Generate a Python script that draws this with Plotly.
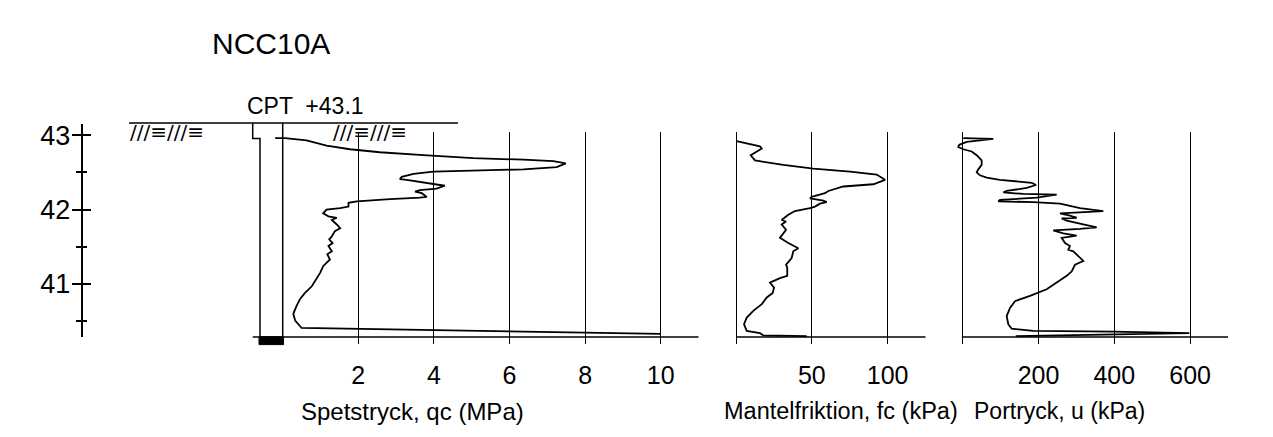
import plotly.graph_objects as go

# ---------------- data ----------------
TITLE = "NCC10A"
GROUND_LABEL = "CPT  +43.1"
END_DEPTH = 40.29  # end of sounding (m, level)

QC_DEPTH = [42.96, 42.96, 42.93, 42.86, 42.81, 42.77, 42.73, 42.69, 42.67, 42.65, 42.62, 42.57,
            42.54, 42.52, 42.51, 42.48, 42.44, 42.41, 42.40, 42.33, 42.32, 42.28, 42.26, 42.24,
            42.22, 42.17, 42.16, 42.14, 42.11, 42.09, 42.04, 42.02, 42.00, 41.95, 41.91, 41.89,
            41.86, 41.80, 41.75, 41.71, 41.64, 41.60, 41.55, 41.51, 41.44, 41.40, 41.33, 41.28,
            41.24, 41.15, 41.08, 40.97, 40.88, 40.80, 40.71, 40.60, 40.51, 40.41, 40.33]
QC_VALUES = [-0.20, 0.06, 0.63, 1.16, 1.78, 2.57, 3.72, 5.04, 6.37, 7.16, 7.49, 7.25,
             6.37, 5.04, 3.98, 3.46, 3.15, 3.10, 3.28, 4.16, 4.29, 4.07, 3.63, 3.50,
             3.68, 3.81, 3.63, 2.84, 1.96, 1.74, 1.74, 1.52, 1.16, 1.07, 1.21, 1.43,
             1.30, 1.43, 1.52, 1.38, 1.30, 1.23, 1.32, 1.21, 1.30, 1.18, 1.25, 1.15,
             1.07, 0.99, 0.90, 0.77, 0.59, 0.46, 0.37, 0.28, 0.33, 0.50, 10.0]

FC_DEPTH = [42.92, 42.88, 42.85, 42.82, 42.77, 42.73, 42.66, 42.60, 42.55, 42.51, 42.47, 42.40,
            42.34, 42.31, 42.25, 42.22, 42.17, 42.15, 42.12, 42.10, 42.08, 42.04, 42.02, 41.98,
            41.93, 41.86, 41.84, 41.80, 41.73, 41.62, 41.55, 41.48, 41.44, 41.35, 41.26, 41.22,
            41.11, 41.08, 41.04, 41.02, 40.95, 40.88, 40.82, 40.73, 40.64, 40.55, 40.46, 40.37,
            40.34, 40.31, 40.30]
FC_VALUES = [0.4, 10.3, 15.8, 17.0, 12.5, 9.7, 12.5, 31.2, 51.0, 75.2, 92.8, 98.3,
             90.6, 70.8, 60.9, 58.7, 49.9, 48.8, 57.6, 59.8, 55.4, 52.1, 48.8, 38.9,
             34.5, 30.1, 33.0, 30.1, 33.0, 29.0, 34.5, 41.1, 37.8, 36.7, 33.0, 33.8,
             33.8, 29.0, 24.6, 22.4, 25.1, 24.2, 20.3, 17.0, 11.4, 7.1, 5.3, 7.1,
             15.8, 18.0, 46.6]

U_DEPTH = [42.96, 42.95, 42.91, 42.87, 42.84, 42.81, 42.78, 42.73, 42.66, 42.60, 42.54, 42.50,
           42.46, 42.43, 42.40, 42.38, 42.36, 42.33, 42.29, 42.25, 42.23, 42.21, 42.20, 42.16,
           42.13, 42.11, 42.10, 42.08, 42.06, 42.02, 41.98, 41.97, 41.95, 41.92, 41.89, 41.88,
           41.85, 41.80, 41.76, 41.74, 41.72, 41.68, 41.65, 41.62, 41.55, 41.51, 41.46, 41.44,
           41.40, 41.31, 41.26, 41.17, 41.11, 41.02, 40.93, 40.84, 40.77, 40.68, 40.57, 40.46,
           40.40, 40.37, 40.36, 40.34, 40.30]
U_VALUES = [1.6, 80.7, 10.5, -9.0, -11.6, 1.6, 23.7, 36.9, 50.0, 50.0, 41.2, 36.9,
            45.6, 63.3, 98.4, 142.5, 182.0, 193.4, 168.9, 116.0, 107.2, 160.0, 248.0, 195.2,
            98.4, 94.0, 186.3, 256.7, 274.4, 309.5, 371.0, 318.2, 256.7, 283.0, 300.7, 261.2,
            274.4, 318.2, 353.5, 309.5, 239.0, 265.4, 300.7, 261.2, 270.0, 283.0, 278.6, 291.8,
            300.7, 318.2, 296.3, 287.6, 274.4, 248.0, 221.6, 177.6, 138.0, 124.8, 116.0, 120.4,
            129.3, 186.3, 397.0, 598.0, 140.0]

DEPTH_TICKS = [41, 42, 43]
DEPTH_MINOR = [40.5, 41.5, 42.5]
QC_TICKS = [2, 4, 6, 8, 10]
FC_TICKS = [0, 50, 100]
U_TICKS = [0, 200, 400, 600]
QC_TITLE = "Spetstryck, qc (MPa)"
FC_TITLE = "Mantelfriktion, fc (kPa)"
U_TITLE = "Portryck, u (kPa)"
HATCH = "///≡///≡"

# ---------------- layout helpers ----------------
OFF = 8                      # default page margin around the figure
FW, FH = 1273 - 2 * OFF, 437 - 2 * OFF
FONT = "Liberation Sans, Arial, sans-serif"
HFONT = "DejaVu Sans, sans-serif"


def px(x):
    return (x - OFF) / FW


def py(y):
    return 1 - (y - OFF) / FH


def depth_at(ypix):
    # 43 m at pixel 133, 75 px per metre
    return 43 - (ypix - 133) / 75.0


def panel(zero_px, px_per_unit, left_px, right_px):
    dom = [px(left_px), px(right_px)]
    rng = [(left_px - zero_px) / px_per_unit, (right_px - zero_px) / px_per_unit]
    return dom, rng


qc_dom, qc_rng = panel(282.7, 37.8, 240, 700)
fc_dom, fc_rng = panel(736.0, 1.516, 725, 930)
u_dom, u_rng = panel(962.7, 0.379, 945, 1232)

line_style = dict(color="black", width=1.8)

fig = go.Figure()
fig.add_trace(go.Scatter(x=QC_VALUES, y=QC_DEPTH, mode="lines", line=line_style,
                         xaxis="x", yaxis="y", showlegend=False, hoverinfo="skip"))
fig.add_trace(go.Scatter(x=FC_VALUES, y=FC_DEPTH, mode="lines", line=line_style,
                         xaxis="x2", yaxis="y", showlegend=False, hoverinfo="skip"))
fig.add_trace(go.Scatter(x=U_VALUES, y=U_DEPTH, mode="lines", line=line_style,
                         xaxis="x3", yaxis="y", showlegend=False, hoverinfo="skip"))
# carriers for the depth scale axes
fig.add_trace(go.Scatter(x=[None], y=[None], xaxis="x4", yaxis="y2", showlegend=False, hoverinfo="skip"))
fig.add_trace(go.Scatter(x=[None], y=[None], xaxis="x4", yaxis="y3", showlegend=False, hoverinfo="skip"))

tickfont = dict(family=FONT, size=25, color="black")
xcommon = dict(anchor="y", showline=False, zeroline=False, showgrid=True, gridcolor="black",
               gridwidth=1.2, ticks="", tickfont=tickfont, ticklabelstandoff=14, fixedrange=True)

fig.update_layout(
    width=FW, height=FH, margin=dict(l=0, r=0, t=0, b=0),
    paper_bgcolor="white", plot_bgcolor="rgba(0,0,0,0)",
    xaxis=dict(domain=qc_dom, range=qc_rng, tickvals=QC_TICKS, **xcommon),
    xaxis2=dict(domain=fc_dom, range=fc_rng, tickvals=FC_TICKS,
                ticktext=["" if v == 0 else str(v) for v in FC_TICKS], **xcommon),
    xaxis3=dict(domain=u_dom, range=u_rng, tickvals=U_TICKS,
                ticktext=["" if v == 0 else str(v) for v in U_TICKS], **xcommon),
    yaxis=dict(domain=[py(343), py(130)], range=[depth_at(343), depth_at(130)], anchor="x",
               visible=False, fixedrange=True),
    xaxis4=dict(domain=[px(82.5), px(100)], range=[0, 1], anchor="y2", visible=False),
    yaxis2=dict(domain=[py(336.7), py(121.7)], range=[depth_at(336.7), depth_at(121.7)],
                anchor="x4", side="left", showline=True, linecolor="black", linewidth=1.5,
                showgrid=False, zeroline=False, ticks="outside", ticklen=9, tickwidth=1.5,
                tickcolor="black", tickvals=DEPTH_TICKS, tickfont=dict(family=FONT, size=27, color="black"),
                minor=dict(ticks="outside", tickvals=DEPTH_MINOR, ticklen=4.5, tickwidth=1.5,
                           tickcolor="black", showgrid=False),
                ticklabelstandoff=-4, fixedrange=True),
    yaxis3=dict(overlaying="y2", range=[depth_at(336.7), depth_at(121.7)], anchor="x4",
                side="left", showline=False, showgrid=False, zeroline=False, ticks="inside",
                ticklen=8, tickwidth=1.5, tickcolor="black", tickvals=DEPTH_TICKS,
                showticklabels=False,
                minor=dict(ticks="inside", tickvals=DEPTH_MINOR, ticklen=4.5, tickwidth=1.5,
                           tickcolor="black", showgrid=False),
                fixedrange=True),
)

shapes = []
lk = dict(color="black", width=1.5)
# end-of-sounding baselines
shapes.append(dict(type="line", xref="x", yref="y", x0=(252.7 - 282.7) / 37.8, x1=11,
                   y0=END_DEPTH, y1=END_DEPTH, line=lk))
shapes.append(dict(type="line", xref="x2", yref="y", x0=0, x1=125, y0=END_DEPTH, y1=END_DEPTH, line=lk))
shapes.append(dict(type="line", xref="x3", yref="y", x0=0, x1=700, y0=END_DEPTH, y1=END_DEPTH, line=lk))
# ground surface line
shapes.append(dict(type="line", xref="paper", yref="paper", x0=px(129), x1=px(458),
                   y0=py(120.7), y1=py(120.7), line=lk))
# CPT rod
rod_left = "M {} {} L {} {} L {} {} L {} {}".format(px(252.7), py(120.7), px(252.7), py(136.5),
                                                   px(260), py(136.5), px(260), py(336))
shapes.append(dict(type="path", xref="paper", yref="paper", path=rod_left, line=lk))
shapes.append(dict(type="line", xref="paper", yref="paper", x0=px(282.7), x1=px(282.7),
                   y0=py(120.7), y1=py(336), line=lk))
shapes.append(dict(type="rect", xref="paper", yref="paper", x0=px(259), x1=px(283.5),
                   y0=py(344), y1=py(336), line=dict(color="black", width=1), fillcolor="black"))
fig.update_layout(shapes=shapes)

ann = []


def text(s, xc, yc, size, family=FONT):
    ann.append(dict(text=s, x=px(xc), y=py(yc), xref="paper", yref="paper", showarrow=False,
                    xanchor="center", yanchor="middle", font=dict(family=family, size=size, color="black")))


text(TITLE, 271, 41, 30)
text(GROUND_LABEL, 305, 104, 23)
text(QC_TITLE, 413, 411, 24)
text(FC_TITLE, 841, 411, 23.5)
text(U_TITLE, 1059, 411, 23)
text(HATCH, 167, 130, 20, HFONT)
text(HATCH, 370, 130, 20, HFONT)
fig.update_layout(annotations=ann)

fig.write_html("out.html")
